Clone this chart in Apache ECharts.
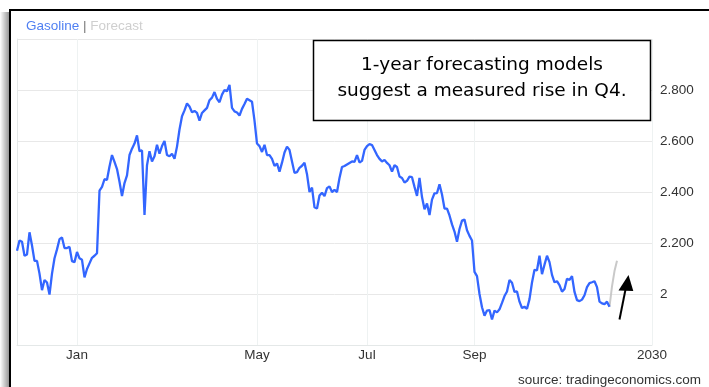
<!DOCTYPE html>
<html>
<head>
<meta charset="utf-8">
<script src="https://cdn.jsdelivr.net/npm/echarts@6/dist/echarts.min.js"></script>
<style>
  html, body { margin: 0; padding: 0; background: #fff; }
  #chart { width: 709px; height: 387px; }
</style>
</head>
<body>
<div id="chart"></div>
<script>
// Gasoline futures, one close per trading session, USD per gallon
const gasoline = [
  2.17, 2.21, 2.205, 2.15, 2.155, 2.242, 2.19, 2.13, 2.13, 2.08,
  2.015, 2.055, 2.045, 1.998, 2.08, 2.14, 2.175, 2.215, 2.222, 2.18,
  2.18, 2.185, 2.129, 2.125, 2.165, 2.14, 2.134, 2.065, 2.098, 2.12,
  2.142, 2.15, 2.16, 2.405, 2.42, 2.45, 2.448, 2.50, 2.545, 2.518,
  2.49, 2.44, 2.384, 2.435, 2.465, 2.545, 2.57, 2.59, 2.622, 2.56,
  2.563, 2.31, 2.505, 2.56, 2.52, 2.54, 2.585, 2.55, 2.58, 2.60,
  2.545, 2.54, 2.55, 2.53, 2.578, 2.645, 2.697, 2.72, 2.747, 2.735,
  2.713, 2.718, 2.71, 2.68, 2.71, 2.72, 2.73, 2.76, 2.77, 2.792,
  2.765, 2.752, 2.782, 2.80, 2.795, 2.82, 2.73, 2.716, 2.712, 2.70,
  2.726, 2.745, 2.766, 2.76, 2.754, 2.68, 2.59, 2.58, 2.557, 2.585,
  2.545, 2.545, 2.53, 2.502, 2.512, 2.48, 2.515, 2.555, 2.578, 2.565,
  2.52, 2.475, 2.478, 2.495, 2.503, 2.515, 2.47, 2.40, 2.417, 2.34,
  2.335, 2.386, 2.397, 2.384, 2.415, 2.422, 2.40, 2.408, 2.40, 2.455,
  2.498, 2.502, 2.508, 2.514, 2.52, 2.518, 2.545, 2.516, 2.522, 2.565,
  2.58, 2.588, 2.584, 2.565, 2.545, 2.53, 2.52, 2.526, 2.514, 2.505,
  2.48, 2.505, 2.498, 2.461, 2.455, 2.437, 2.444, 2.46, 2.458, 2.42,
  2.385, 2.455, 2.38, 2.332, 2.355, 2.31, 2.37, 2.395, 2.396, 2.43,
  2.39, 2.335, 2.335, 2.308, 2.273, 2.245, 2.205, 2.255, 2.288, 2.292,
  2.25, 2.228, 2.21, 2.087, 2.07, 2.00, 1.948, 1.915, 1.935, 1.937,
  1.90, 1.935, 1.928, 1.94, 1.965, 1.992, 2.01, 2.055, 2.044, 2.008,
  2.01, 1.97, 1.945, 1.95, 1.942, 1.98, 2.045, 2.095, 2.093, 2.15,
  2.078, 2.115, 2.15, 2.125, 2.075, 2.046, 2.05, 2.035, 2.009, 2.02,
  2.06, 2.055, 2.07, 2.008, 1.976, 1.972, 1.978, 1.995, 2.027, 2.043,
  2.046, 2.05, 2.027, 1.97, 1.963, 1.96, 1.97, 1.95
];

// Model forecast, continuing from the last observed session
const forecastStart = 237;
const forecast = [1.95, 2.03, 2.09, 2.13];

// Session axis: the window ends at the start of 2030
const sessionMax = 254;
const monthTicks = [24, 96, 140, 183, 254];
const monthLabels = ['Jan', 'May', 'Jul', 'Sep', '2030'];

// Price axis
const priceMin = 1.8;
const priceMax = 3.0;
const priceStep = 0.2;

const noteLines = ['1-year forecasting models', 'suggest a measured rise in Q4.'];
const sourceText = 'source: tradingeconomics.com';

const gasolineData = gasoline.map((v, i) => [i, v]);
const forecastData = forecast.map((v, i) => [forecastStart + i, v]);

const uiFont = '"Liberation Sans", Arial, sans-serif';
const chart = echarts.init(document.getElementById('chart'), null, { renderer: 'canvas' });

chart.setOption({
  animation: false,
  backgroundColor: '#fff',
  title: {
    text: '{a|Gasoline} {b||} {c|Forecast}',
    left: 21,
    top: 14,
    textStyle: {
      fontFamily: uiFont,
      fontSize: 13.5,
      fontWeight: 'normal',
      rich: {
        a: { color: '#4f7ff2', fontSize: 13.5, fontFamily: uiFont },
        b: { color: '#777', fontSize: 13.5, fontFamily: uiFont },
        c: { color: '#cfcfcf', fontSize: 13.5, fontFamily: uiFont }
      }
    }
  },
  grid: { left: 17, right: 57, top: 39, bottom: 42, containLabel: false },
  xAxis: {
    type: 'value',
    min: 0,
    max: sessionMax,
    axisLine: { show: true, lineStyle: { color: '#e4e8e8', width: 1 } },
    axisTick: { show: false, customValues: monthTicks },
    splitLine: { show: true, lineStyle: { color: '#eef2f2', width: 1 } },
    axisLabel: {
      customValues: monthTicks,
      formatter: (v) => monthLabels[monthTicks.indexOf(v)] || '',
      color: '#333',
      fontFamily: uiFont,
      fontSize: 13.5,
      margin: 3
    }
  },
  yAxis: {
    type: 'value',
    position: 'right',
    min: priceMin,
    max: priceMax,
    interval: priceStep,
    axisLine: { show: true, lineStyle: { color: '#e4e8e8', width: 1 } },
    axisTick: { show: false },
    splitLine: { show: true, lineStyle: { color: '#e8e8e8', width: 1 } },
    axisLabel: {
      showMinLabel: false,
      showMaxLabel: false,
      margin: 8,
      color: '#333',
      fontFamily: uiFont,
      fontSize: 13.5,
      formatter: (v) => (Math.abs(v - 2) < 1e-9 ? '2' : v.toFixed(3))
    }
  },
  series: [
    {
      name: 'Gasoline',
      type: 'line',
      data: gasolineData,
      showSymbol: false,
      lineStyle: { color: '#3366ff', width: 2.3 },
      itemStyle: { color: '#3366ff' },
      z: 3
    },
    {
      name: 'Forecast',
      type: 'line',
      data: forecastData,
      showSymbol: false,
      lineStyle: { color: '#c9c9c9', width: 2 },
      itemStyle: { color: '#c9c9c9' },
      z: 2
    }
  ],
  graphic: [
    // soft shadow along the left edge of the frame
    {
      type: 'rect',
      shape: { x: 0, y: 12, width: 10, height: 380 },
      style: {
        fill: new echarts.graphic.LinearGradient(0, 0, 1, 0, [
          { offset: 0, color: 'rgba(0,0,0,0.0)' },
          { offset: 1, color: 'rgba(0,0,0,0.45)' }
        ])
      },
      z: 1
    },
    // frame
    {
      type: 'rect',
      shape: { x: 10, y: 10, width: 720, height: 400 },
      style: { fill: 'none', stroke: '#000', lineWidth: 2 },
      z: 20
    },
    // note box
    {
      type: 'rect',
      shape: { x: 313.5, y: 40.5, width: 337, height: 80 },
      style: { fill: '#fff', stroke: '#000', lineWidth: 1.5 },
      z: 30
    },
    {
      type: 'text',
      x: 482, y: 65,
      style: {
        text: noteLines[0],
        font: '18.5px "DejaVu Sans", Verdana, sans-serif',
        fill: '#000',
        textAlign: 'center',
        textVerticalAlign: 'middle'
      },
      z: 31
    },
    {
      type: 'text',
      x: 482, y: 91,
      style: {
        text: noteLines[1],
        font: '18.5px "DejaVu Sans", Verdana, sans-serif',
        fill: '#000',
        textAlign: 'center',
        textVerticalAlign: 'middle'
      },
      z: 31
    },
    // arrow pointing at the forecast
    {
      type: 'line',
      shape: { x1: 619.5, y1: 319.5, x2: 625.8, y2: 288 },
      style: { stroke: '#000', lineWidth: 2 },
      z: 30
    },
    {
      type: 'polygon',
      shape: { points: [[628.5, 275], [618.5, 290.5], [633.3, 291]] },
      style: { fill: '#000' },
      z: 30
    },
    // source line
    {
      type: 'text',
      x: 701, y: 380,
      style: {
        text: sourceText,
        font: '13.5px "Liberation Sans", Arial, sans-serif',
        fill: '#333',
        textAlign: 'right',
        textVerticalAlign: 'middle'
      },
      z: 30
    }
  ]
});
</script>
</body>
</html>
